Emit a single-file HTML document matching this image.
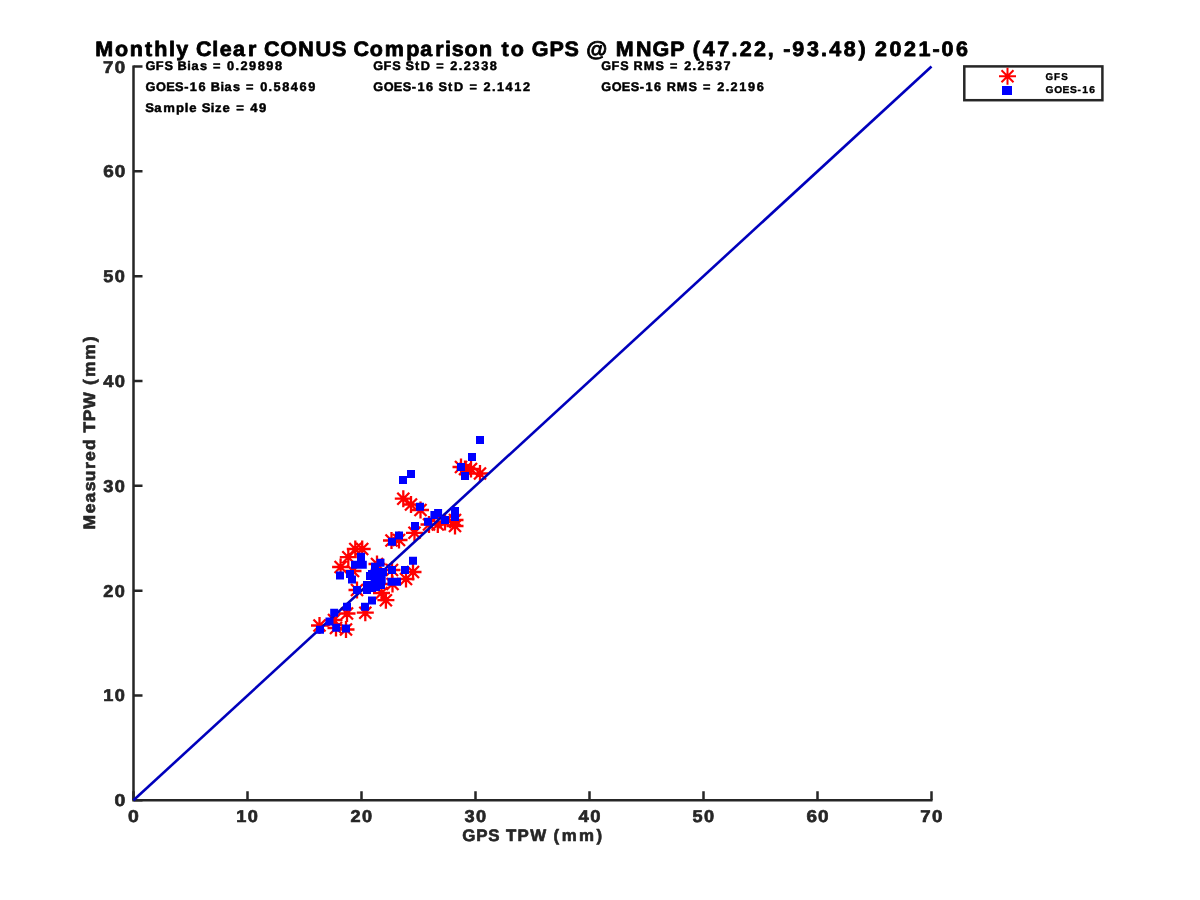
<!DOCTYPE html><html><head><meta charset="utf-8"><style>html,body{margin:0;padding:0;background:#fff;width:1200px;height:900px;overflow:hidden}svg{display:block;will-change:transform}text{font-family:"Liberation Sans",sans-serif;font-weight:bold;text-rendering:geometricPrecision}</style></head><body>
<svg width="1200" height="900" viewBox="0 0 1200 900">
<rect width="1200" height="900" fill="#fff"/>
<path d="M133.5,65.5V800.3H932.5" stroke="#262626" stroke-width="2.5" fill="none"/>
<path d="M133.5,800.3V791.3M133.5,800.3H142.5M247.5,800.3V791.3M133.5,695.4714285714285H142.5M361.5,800.3V791.3M133.5,590.6428571428571H142.5M475.5,800.3V791.3M133.5,485.8142857142857H142.5M589.5,800.3V791.3M133.5,380.98571428571427H142.5M703.5,800.3V791.3M133.5,276.15714285714284H142.5M817.5,800.3V791.3M133.5,171.32857142857142H142.5M931.5,800.3V791.3M133.5,66.5H142.5" stroke="#262626" stroke-width="2.5" fill="none"/>
<path d="M394.80,498.70H411.80M403.30,490.20V507.20M397.29,492.69L409.31,504.71M397.29,504.71L409.31,492.69M402.50,504.50H419.50M411.00,496.00V513.00M404.99,498.49L417.01,510.51M404.99,510.51L417.01,498.49M412.00,510.00H429.00M420.50,501.50V518.50M414.49,503.99L426.51,516.01M414.49,516.01L426.51,503.99M452.50,467.00H469.50M461.00,458.50V475.50M454.99,460.99L467.01,473.01M454.99,473.01L467.01,460.99M462.50,469.00H479.50M471.00,460.50V477.50M464.99,462.99L477.01,475.01M464.99,475.01L477.01,462.99M471.50,473.50H488.50M480.00,465.00V482.00M473.99,467.49L486.01,479.51M473.99,479.51L486.01,467.49M456.50,469.00H473.50M465.00,460.50V477.50M458.99,462.99L471.01,475.01M458.99,475.01L471.01,462.99M406.00,532.80H423.00M414.50,524.30V541.30M408.49,526.79L420.51,538.81M408.49,538.81L420.51,526.79M390.50,540.00H407.50M399.00,531.50V548.50M392.99,533.99L405.01,546.01M392.99,546.01L405.01,533.99M383.00,540.50H400.00M391.50,532.00V549.00M385.49,534.49L397.51,546.51M385.49,546.51L397.51,534.49M420.50,524.50H437.50M429.00,516.00V533.00M422.99,518.49L435.01,530.51M422.99,530.51L435.01,518.49M429.30,524.50H446.30M437.80,516.00V533.00M431.79,518.49L443.81,530.51M431.79,530.51L443.81,518.49M446.50,526.00H463.50M455.00,517.50V534.50M448.99,519.99L461.01,532.01M448.99,532.01L461.01,519.99M436.50,522.00H453.50M445.00,513.50V530.50M438.99,515.99L451.01,528.01M438.99,528.01L451.01,515.99M446.50,520.00H463.50M455.00,511.50V528.50M448.99,513.99L461.01,526.01M448.99,526.01L461.01,513.99M404.50,572.00H421.50M413.00,563.50V580.50M406.99,565.99L419.01,578.01M406.99,578.01L419.01,565.99M397.50,579.00H414.50M406.00,570.50V587.50M399.99,572.99L412.01,585.01M399.99,585.01L412.01,572.99M377.40,600.20H394.40M385.90,591.70V608.70M379.89,594.19L391.91,606.21M379.89,606.21L391.91,594.19M373.00,593.00H390.00M381.50,584.50V601.50M375.49,586.99L387.51,599.01M375.49,599.01L387.51,586.99M384.00,584.00H401.00M392.50,575.50V592.50M386.49,577.99L398.51,590.01M386.49,590.01L398.51,577.99M332.10,567.00H349.10M340.60,558.50V575.50M334.59,560.99L346.61,573.01M334.59,573.01L346.61,560.99M344.50,571.00H361.50M353.00,562.50V579.50M346.99,564.99L359.01,577.01M346.99,577.01L359.01,564.99M339.80,557.20H356.80M348.30,548.70V565.70M342.29,551.19L354.31,563.21M342.29,563.21L354.31,551.19M346.80,549.00H363.80M355.30,540.50V557.50M349.29,542.99L361.31,555.01M349.29,555.01L361.31,542.99M353.70,549.00H370.70M362.20,540.50V557.50M356.19,542.99L368.21,555.01M356.19,555.01L368.21,542.99M311.00,625.50H328.00M319.50,617.00V634.00M313.49,619.49L325.51,631.51M313.49,631.51L325.51,619.49M325.50,620.00H342.50M334.00,611.50V628.50M327.99,613.99L340.01,626.01M327.99,626.01L340.01,613.99M338.50,613.50H355.50M347.00,605.00V622.00M340.99,607.49L353.01,619.51M340.99,619.51L353.01,607.49M356.80,612.70H373.80M365.30,604.20V621.20M359.29,606.69L371.31,618.71M359.29,618.71L371.31,606.69M327.50,628.00H344.50M336.00,619.50V636.50M329.99,621.99L342.01,634.01M329.99,634.01L342.01,621.99M337.50,629.50H354.50M346.00,621.00V638.00M339.99,623.49L352.01,635.51M339.99,635.51L352.01,623.49M348.50,590.00H365.50M357.00,581.50V598.50M350.99,583.99L363.01,596.01M350.99,596.01L363.01,583.99M383.50,570.00H400.50M392.00,561.50V578.50M385.99,563.99L398.01,576.01M385.99,576.01L398.01,563.99M368.50,564.00H385.50M377.00,555.50V572.50M370.99,557.99L383.01,570.01M370.99,570.01L383.01,557.99" stroke="#ff0000" stroke-width="2.3" fill="none"/>
<line x1="133.5" y1="800.3" x2="931.5" y2="66.5" stroke="#0000bc" stroke-width="2.6"/>
<path d="M476.00,436.00h8v8h-8zM468.00,453.00h8v8h-8zM457.00,463.00h8v8h-8zM461.00,472.00h8v8h-8zM407.00,470.00h8v8h-8zM399.00,476.00h8v8h-8zM416.00,502.70h8v8h-8zM430.40,511.00h8v8h-8zM434.10,509.00h8v8h-8zM424.00,517.70h8v8h-8zM441.00,516.00h8v8h-8zM451.00,507.00h8v8h-8zM451.00,513.00h8v8h-8zM411.00,522.00h8v8h-8zM395.00,531.60h8v8h-8zM388.00,537.70h8v8h-8zM409.00,556.80h8v8h-8zM401.00,566.00h8v8h-8zM388.00,566.00h8v8h-8zM387.50,577.70h8v8h-8zM393.00,577.70h8v8h-8zM376.50,558.70h8v8h-8zM371.00,562.70h8v8h-8zM379.00,568.00h8v8h-8zM366.00,572.00h8v8h-8zM377.70,576.00h8v8h-8zM363.00,581.00h8v8h-8zM372.00,583.00h8v8h-8zM353.00,586.00h8v8h-8zM368.00,596.60h8v8h-8zM361.00,602.80h8v8h-8zM343.00,602.80h8v8h-8zM357.00,552.70h8v8h-8zM351.00,560.70h8v8h-8zM358.80,560.70h8v8h-8zM336.00,571.60h8v8h-8zM346.00,570.00h8v8h-8zM348.00,575.50h8v8h-8zM363.00,586.00h8v8h-8zM372.00,576.00h8v8h-8zM368.00,570.00h8v8h-8zM368.00,584.00h8v8h-8zM377.00,581.00h8v8h-8zM371.00,579.00h8v8h-8zM373.00,570.00h8v8h-8zM316.00,625.80h8v8h-8zM325.50,617.60h8v8h-8zM330.20,608.70h8v8h-8zM332.20,623.80h8v8h-8zM342.00,624.60h8v8h-8z" fill="#0000ff"/>
<text transform="scale(1.1297,1)" x="113.41" y="822" font-size="17.17" fill="#262626" stroke="#262626" stroke-width="0.65" stroke-linejoin="round">0</text>
<text transform="scale(1.1297,1)" x="101.39" y="806.3" font-size="17.17" fill="#262626" stroke="#262626" stroke-width="0.65" stroke-linejoin="round">0</text>
<text transform="scale(1.0594,1)" x="222.92 233.80" y="822" font-size="17.17" fill="#262626" stroke="#262626" stroke-width="0.65" stroke-linejoin="round">10</text>
<text transform="scale(1.0594,1)" x="97.56 108.43" y="701.4714285714285" font-size="17.17" fill="#262626" stroke="#262626" stroke-width="0.65" stroke-linejoin="round">10</text>
<text transform="scale(1.0575,1)" x="331.34 342.29" y="822" font-size="17.17" fill="#262626" stroke="#262626" stroke-width="0.65" stroke-linejoin="round">20</text>
<text transform="scale(1.0575,1)" x="97.68 108.63" y="596.6428571428571" font-size="17.17" fill="#262626" stroke="#262626" stroke-width="0.65" stroke-linejoin="round">20</text>
<text transform="scale(1.0598,1)" x="438.32 449.22" y="822" font-size="17.17" fill="#262626" stroke="#262626" stroke-width="0.65" stroke-linejoin="round">30</text>
<text transform="scale(1.0598,1)" x="97.50 108.39" y="491.8142857142857" font-size="17.17" fill="#262626" stroke="#262626" stroke-width="0.65" stroke-linejoin="round">30</text>
<text transform="scale(1.0717,1)" x="539.84 550.72" y="822" font-size="17.17" fill="#262626" stroke="#262626" stroke-width="0.65" stroke-linejoin="round">40</text>
<text transform="scale(1.0717,1)" x="96.25 107.14" y="386.98571428571427" font-size="17.17" fill="#262626" stroke="#262626" stroke-width="0.65" stroke-linejoin="round">40</text>
<text transform="scale(1.0588,1)" x="653.98 664.87" y="822" font-size="17.17" fill="#262626" stroke="#262626" stroke-width="0.65" stroke-linejoin="round">50</text>
<text transform="scale(1.0588,1)" x="97.61 108.49" y="282.15714285714284" font-size="17.17" fill="#262626" stroke="#262626" stroke-width="0.65" stroke-linejoin="round">50</text>
<text transform="scale(1.1025,1)" x="731.43 741.86" y="822" font-size="17.17" fill="#262626" stroke="#262626" stroke-width="0.65" stroke-linejoin="round">60</text>
<text transform="scale(1.1025,1)" x="93.58 104.01" y="177.32857142857142" font-size="17.17" fill="#262626" stroke="#262626" stroke-width="0.65" stroke-linejoin="round">60</text>
<text transform="scale(1.0887,1)" x="845.32 856.03" y="822" font-size="17.17" fill="#262626" stroke="#262626" stroke-width="0.65" stroke-linejoin="round">70</text>
<text transform="scale(1.0887,1)" x="94.68 105.39" y="72.5" font-size="17.17" fill="#262626" stroke="#262626" stroke-width="0.65" stroke-linejoin="round">70</text>
<text transform="scale(1.0153,1)" x="455.41 469.16 480.94 492.80 498.42 509.64 522.15 539.52 545.27 553.22 570.21 587.41" y="841" font-size="16.62" fill="#262626" stroke="#262626" stroke-width="0.63" stroke-linejoin="round">GPS TPW (mm)</text>
<g transform="translate(95,0) rotate(-90)"><text transform="scale(1.0536,1)" x="-502.52 -487.16 -477.03 -466.39 -456.68 -445.14 -437.63 -427.15 -415.93 -410.61 -399.83 -387.85 -370.91 -365.40 -357.89 -341.53 -324.77" y="0" font-size="16.62" fill="#262626" stroke="#262626" stroke-width="0.63" stroke-linejoin="round">Measured TPW (mm)</text></g>
<text transform="scale(1.0292,1)" x="92.48 111.81 125.97 140.79 149.99 164.17 171.22 184.32 190.33 206.16 213.46 226.51 241.08 250.46 256.47 272.20 289.83 306.51 322.66 337.43 343.44 359.26 373.83 394.64 408.41 422.98 432.32 438.99 451.27 465.43 479.61 487.29 496.26 510.21 516.78 533.84 548.45 563.23 569.53 590.48 598.26 617.95 634.10 651.16 665.98 673.10 682.76 696.82 710.73 718.67 732.73 746.04 753.90 761.05 769.84 784.02 797.80 805.65 819.81 834.26 842.53 850.15 864.26 878.29 892.46 905.95 914.86 928.99" y="56" font-size="20.90" fill="#000" stroke="#000" stroke-width="0.79" stroke-linejoin="round">Monthly Clear CONUS Comparison to GPS @ MNGP (47.22, -93.48) 2021-06</text>
<text transform="scale(1.0185,1)" x="142.88 153.00 161.44 170.36 174.37 183.93 187.97 196.25 203.70 209.04 218.22 222.88 231.20 236.03 244.50 253.07 261.54 270.10" y="70" font-size="12.52" fill="#000" stroke="#000" stroke-width="0.48" stroke-linejoin="round">GFS Bias = 0.29898</text>
<text transform="scale(1.0189,1)" x="142.83 153.07 163.08 171.79 180.77 186.22 194.73 202.82 206.83 216.38 220.42 228.69 236.15 241.48 250.66 255.32 263.64 268.50 276.98 285.44 294.07 302.48" y="91" font-size="12.52" fill="#000" stroke="#000" stroke-width="0.48" stroke-linejoin="round">GOES-16 Bias = 0.58469</text>
<text transform="scale(1.0433,1)" x="139.26 147.80 156.41 168.74 177.08 181.37 189.31 193.31 202.05 206.14 213.30 221.24 226.40 235.41 239.84 248.17" y="112" font-size="12.52" fill="#000" stroke="#000" stroke-width="0.48" stroke-linejoin="round">Sample Size = 49</text>
<text transform="scale(1.0141,1)" x="368.05 378.21 386.69 395.64 399.82 409.17 414.92 424.86 430.23 439.44 444.10 452.48 457.33 465.91 474.46 483.00" y="70" font-size="12.52" fill="#000" stroke="#000" stroke-width="0.48" stroke-linejoin="round">GFS StD = 2.2338</text>
<text transform="scale(1.0145,1)" x="367.89 378.18 388.24 396.98 405.99 411.47 420.02 428.13 432.31 441.65 447.40 457.34 462.71 471.92 476.58 484.95 489.86 498.30 506.97 515.45" y="91" font-size="12.52" fill="#000" stroke="#000" stroke-width="0.48" stroke-linejoin="round">GOES-16 StD = 2.1412</text>
<text transform="scale(1.0035,1)" x="599.22 609.49 618.05 627.07 631.39 641.51 653.27 662.28 667.73 677.02 681.75 690.20 695.12 703.81 712.43 721.00" y="70" font-size="12.52" fill="#000" stroke="#000" stroke-width="0.48" stroke-linejoin="round">GFS RMS = 2.2537</text>
<text transform="scale(1.0141,1)" x="592.86 603.15 613.21 621.95 630.97 636.45 645.00 653.12 657.36 667.36 679.01 687.96 693.33 702.54 707.20 715.58 720.43 729.05 737.49 746.16" y="91" font-size="12.52" fill="#000" stroke="#000" stroke-width="0.48" stroke-linejoin="round">GOES-16 RMS = 2.2196</text>
<rect x="964.3" y="66.4" width="138.1" height="33.8" fill="#fff" stroke="#262626" stroke-width="2.5"/>
<path d="M999.00,76.20H1016.00M1007.50,67.70V84.70M1001.49,70.19L1013.51,82.21M1001.49,82.21L1013.51,70.19" stroke="#ff0000" stroke-width="2" fill="none"/>
<rect x="1002" y="86" width="10" height="9" fill="#0000ff"/>
<text transform="scale(0.9844,1)" x="1062.16 1070.81 1078.06" y="79.7" font-size="9.87" fill="#000" stroke="#000" stroke-width="0.38" stroke-linejoin="round">GFS</text>
<text transform="scale(1.0334,1)" x="1011.71 1020.09 1028.27 1035.39 1042.68 1047.18 1054.15" y="92.9" font-size="9.87" fill="#000" stroke="#000" stroke-width="0.38" stroke-linejoin="round">GOES-16</text>
</svg></body></html>
